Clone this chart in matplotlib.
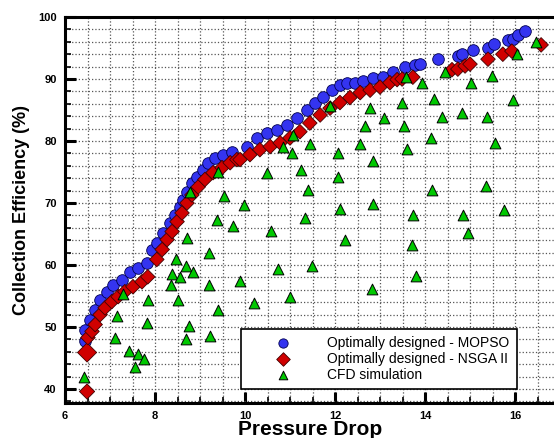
import matplotlib.pyplot as plt
from matplotlib.ticker import MultipleLocator

plt.rcParams['font.family'] = ['Liberation Sans', 'DejaVu Sans']

# Optimally designed - MOPSO (blue circles)
mopso_x = [6.48, 6.45, 6.44, 6.56, 6.67, 6.78, 6.93, 7.07, 7.27, 7.44, 7.62, 7.82,
           7.93, 8.04, 8.18, 8.33, 8.44, 8.56, 8.62, 8.71, 8.82, 8.93, 9.07, 9.18,
           9.33, 9.51, 9.71, 10.04, 10.27, 10.49, 10.71, 10.93, 11.16, 11.38, 11.56,
           11.73, 11.93, 12.11, 12.27, 12.44, 12.62, 12.84, 13.07, 13.29, 13.56,
           13.78, 13.89, 14.29, 14.73, 14.82, 15.07, 15.40, 15.53, 15.84, 15.96,
           16.07, 16.22]
mopso_y = [46.0, 47.7, 49.6, 51.2, 52.8, 54.4, 55.7, 56.8, 57.6, 58.8, 59.6, 60.4,
           62.5, 63.6, 65.2, 66.8, 68.1, 69.4, 70.5, 71.7, 73.3, 74.2, 75.4, 76.5,
           77.3, 77.8, 78.3, 79.1, 80.5, 81.3, 81.8, 82.6, 83.7, 85.0, 86.2,
           87.1, 88.2, 89.1, 89.4, 89.4, 89.7, 90.2, 90.3, 91.1, 91.9,
           92.3, 92.4, 93.2, 93.7, 94.0, 94.7, 95.0, 95.7, 96.3, 96.5,
           97.1, 97.7]

# Optimally designed - NSGA II (red diamonds)
nsga_x = [6.49, 6.49, 6.51, 6.60, 6.67, 6.78, 6.89, 7.04, 7.18, 7.33, 7.51, 7.71,
          7.84, 8.04, 8.16, 8.27, 8.38, 8.49, 8.60, 8.71, 8.82, 8.96, 9.11, 9.29,
          9.49, 9.67, 9.82, 9.89, 10.11, 10.33, 10.56, 10.78, 11.00, 11.22, 11.44,
          11.67, 11.89, 12.11, 12.33, 12.56, 12.78, 13.00, 13.22, 13.38, 13.49,
          13.73, 14.60, 14.73, 14.89, 15.00, 15.40, 15.73, 15.93, 16.58]
nsga_y = [39.6, 45.9, 48.3, 49.3, 50.4, 52.0, 53.1, 54.1, 54.9, 55.7, 56.5, 57.3,
          58.1, 60.9, 62.5, 64.1, 65.4, 67.0, 68.4, 70.0, 71.3, 72.6, 73.8, 74.9,
          75.7, 76.5, 77.0, 77.0, 77.8, 78.6, 79.1, 79.7, 80.5, 81.5, 82.9,
          84.2, 85.3, 86.2, 87.0, 87.8, 88.2, 88.7, 89.4, 89.9, 90.0,
          90.3, 91.5, 91.6, 92.1, 92.4, 93.2, 94.0, 94.5, 95.5]
nsga_size = [60] + [95] + [55] * (len(nsga_x) - 2)

# CFD simulation (green triangles)
cfd_x = [6.42, 7.11, 7.16, 7.29, 7.43, 7.62, 7.56, 7.76, 7.84, 7.83, 8.36, 8.38,
         8.46, 8.56, 8.51, 8.69, 8.71, 8.84, 8.76, 8.69, 9.20, 9.20, 9.40, 9.22,
         9.37, 9.73, 9.89, 10.20, 10.58, 10.73, 11.33, 12.10, 11.00, 11.49, 12.22,
         12.82, 13.73, 13.71, 13.80, 14.84, 14.96, 15.76, 11.89, 12.78, 13.09,
         12.67, 13.49, 13.53, 13.58, 13.93, 14.44, 14.20, 14.38, 14.13, 14.82,
         15.02, 15.49, 15.38, 15.96, 15.56, 16.04, 16.47, 11.44, 10.84, 11.07,
         11.04, 12.07, 12.56, 12.84, 13.60, 11.24, 12.07, 11.40, 14.16, 15.36,
         12.84, 10.49, 9.40, 8.78, 9.53, 9.98]
cfd_y = [42.0, 48.3, 51.8, 55.4, 46.2, 45.7, 43.6, 44.8, 54.4, 50.6, 56.8, 58.6,
         61.0, 58.0, 54.3, 59.9, 64.3, 58.8, 50.2, 48.0, 62.0, 56.7, 52.7, 48.6,
         67.3, 66.3, 57.5, 53.8, 65.5, 59.4, 67.6, 69.0, 54.9, 59.9, 64.0,
         56.2, 68.1, 63.3, 58.3, 68.1, 65.1, 68.9, 85.7, 85.3, 83.7,
         82.4, 86.1, 82.4, 90.3, 89.3, 91.1, 86.8, 83.9, 80.5, 84.5,
         89.4, 90.5, 83.9, 86.6, 79.7, 94.0, 96.0, 79.5, 79.1, 81.0,
         78.0, 78.0, 79.5, 76.8, 78.7, 75.4, 74.2, 72.1, 72.1, 72.8,
         69.9, 74.9, 75.0, 71.7, 71.2, 69.7]

fig = plt.figure(figsize=(5.54, 4.38), dpi=100)
ax = fig.add_axes([65 / 554, 35 / 438, 495 / 554, 386 / 438])

ax.scatter(mopso_x, mopso_y, s=70, marker='o', color='#3434f0',
           edgecolors='#000050', linewidths=0.6, zorder=3,
           label='Optimally designed - MOPSO')
ax.scatter(nsga_x, nsga_y, s=nsga_size, marker='D', color='#d00000',
           edgecolors='#400000', linewidths=0.6, zorder=4,
           label='Optimally designed - NSGA II')
ax.scatter(cfd_x, cfd_y, s=60, marker='^', color='#00c800',
           edgecolors='black', linewidths=0.7, zorder=5,
           label='CFD simulation')

ax.set_xlim(6, 17)
ax.set_ylim(37.75, 100)
ax.xaxis.set_major_locator(MultipleLocator(2))
ax.xaxis.set_minor_locator(MultipleLocator(0.5))
ax.yaxis.set_major_locator(MultipleLocator(10))
ax.yaxis.set_minor_locator(MultipleLocator(2))

ax.grid(True, which='both', linestyle=':', linewidth=0.9, color='#555555')
ax.set_axisbelow(True)
ax.tick_params(which='major', direction='in', length=8, width=2.2,
               labelsize=8, top=False, right=False, pad=6)
ax.tick_params(which='minor', direction='in', length=4, width=1.2,
               top=False, right=False)
for lab in ax.get_xticklabels() + ax.get_yticklabels():
    lab.set_fontweight('bold')

for side in ['left', 'bottom', 'top']:
    ax.spines[side].set_linewidth(2.2)
ax.spines['right'].set_visible(False)

ax.set_xlabel('Pressure Drop', fontsize=15, fontweight='bold')
ax.set_ylabel('Collection Efficiency (%)', fontsize=13, fontweight='bold',
              labelpad=6)
ax.xaxis.set_label_coords((310 - 65) / 495, -0.045)

leg = ax.legend(loc='lower left', bbox_to_anchor=(241 / 554, 49 / 438),
                bbox_transform=fig.transFigure, fontsize=10, frameon=True,
                fancybox=False, handlelength=5, handletextpad=0.72,
                labelspacing=0.15, borderpad=0.5, borderaxespad=0,
                markerscale=0.8)
leg.get_frame().set_edgecolor('black')
leg.get_frame().set_linewidth(1.2)
leg.get_frame().set_alpha(1)

fig.savefig('out.png', dpi=100)
